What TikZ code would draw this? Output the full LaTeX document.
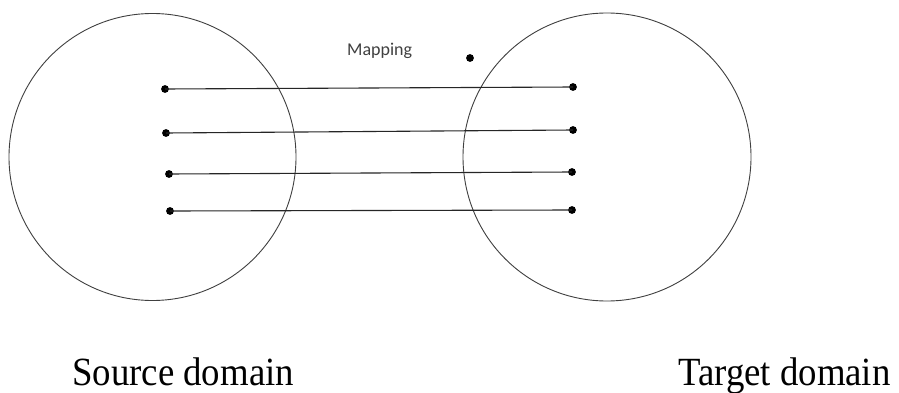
\documentclass[tikz,border=0pt]{standalone}
\usepackage{fontspec}
\setmainfont{Liberation Serif}
\newfontfamily\labelfont{Carlito}
\begin{document}
\begin{tikzpicture}[x=1pt,y=-1pt,
  setcircle/.style={draw=black!75,line width=0.9pt,circle,inner sep=0pt},
  pt/.style={circle,fill=black,inner sep=0pt,minimum size=7.8pt},
  mapline/.style={draw=black!85,line width=1.1pt},
  caption/.style={font=\fontsize{40}{42}\selectfont,inner sep=0pt,xscale=0.92,anchor=base west},
  maplabel/.style={font=\labelfont\fontsize{18}{20}\selectfont,text=black!75,inner sep=0pt,anchor=base west}]
  \useasboundingbox (0,0) rectangle (899,393);
  \fill[white] (0,0) rectangle (899,393);

  % the two domains
  \node[setcircle,minimum size=287pt] (src) at (152.5,157) {};
  \node[setcircle,minimum size=288pt] (tgt) at (607,157) {};

  % elements of the source domain
  \node[pt] (s1) at (165,89) {};
  \node[pt] (s2) at (166,133) {};
  \node[pt] (s3) at (169,174) {};
  \node[pt] (s4) at (170,211) {};

  % elements of the target domain
  \node[pt] (t1) at (573,87) {};
  \node[pt] (t2) at (573,130) {};
  \node[pt] (t3) at (572,172) {};
  \node[pt] (t4) at (572,210) {};
  \node[pt] (t0) at (470,58) {};

  % the mapping
  \draw[mapline] (s1.center) -- (t1.center);
  \draw[mapline] (s2.center) -- (t2.center);
  \draw[mapline] (s3.center) -- (t3.center);
  \draw[mapline] (s4.center) -- (t4.center);

  \node[maplabel] (map) at (347,56) {Mapping};

  % captions
  \node[caption] (srccap) at (72,385) {Source domain};
  \node[caption] (tgtcap) at (678,385) {Target domain};
\end{tikzpicture}
\end{document}
